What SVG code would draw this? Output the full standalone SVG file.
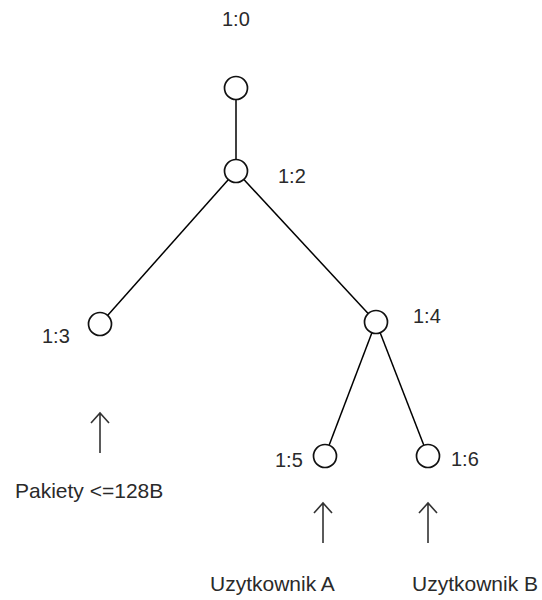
<svg xmlns="http://www.w3.org/2000/svg" width="542" height="600" viewBox="0 0 542 600">
<defs>
<style>
.edge{stroke:#000;stroke-width:1.5;fill:none}
.node{fill:#fff;stroke:#111;stroke-width:1.7}
.lbl{font-family:"Liberation Sans",Arial,sans-serif;font-size:20px;fill:#2a2a2a}
.txt{font-family:"Liberation Sans",Arial,sans-serif;font-size:21px;fill:#2a2a2a}
.arr{stroke:#333;stroke-width:1.6;fill:none}
</style>
</defs>
<rect width="542" height="600" fill="#fff"/>
<g id="connectors">
<line class="edge" x1="236" y1="88" x2="236" y2="171"/>
<line class="edge" x1="236" y1="171" x2="100" y2="324"/>
<line class="edge" x1="236" y1="171" x2="376" y2="322"/>
<line class="edge" x1="376" y1="322" x2="325" y2="456"/>
<line class="edge" x1="376" y1="322" x2="428" y2="456"/>
</g>
<g id="n10">
<circle class="node" cx="236" cy="88" r="11.5"/>
<text class="lbl" x="222" y="26">1:0</text>
</g>
<g id="n12">
<circle class="node" cx="236" cy="171" r="11.5"/>
<text class="lbl" x="278" y="183">1:2</text>
</g>
<g id="n13">
<circle class="node" cx="100" cy="324" r="11.5"/>
<text class="lbl" x="42" y="343">1:3</text>
</g>
<g id="n14">
<circle class="node" cx="376" cy="322" r="11.5"/>
<text class="lbl" x="413" y="323">1:4</text>
</g>
<g id="n15">
<circle class="node" cx="325" cy="456" r="11.5"/>
<text class="lbl" x="275" y="467">1:5</text>
</g>
<g id="n16">
<circle class="node" cx="428" cy="456" r="11.5"/>
<text class="lbl" x="451" y="466">1:6</text>
</g>
<g id="arrowA">
<path class="arr" d="M100,453 V413 M91,423 L100,413 L109,423"/>
<text class="txt" x="15" y="498">Pakiety &lt;=128B</text>
</g>
<g id="arrowB">
<path class="arr" d="M323,543 V503 M314,513 L323,503 L332,513"/>
<text class="txt" x="210" y="591">Uzytkownik A</text>
</g>
<g id="arrowC">
<path class="arr" d="M428,543 V503 M419,513 L428,503 L437,513"/>
<text class="txt" x="412" y="591">Uzytkownik B</text>
</g>
</svg>
